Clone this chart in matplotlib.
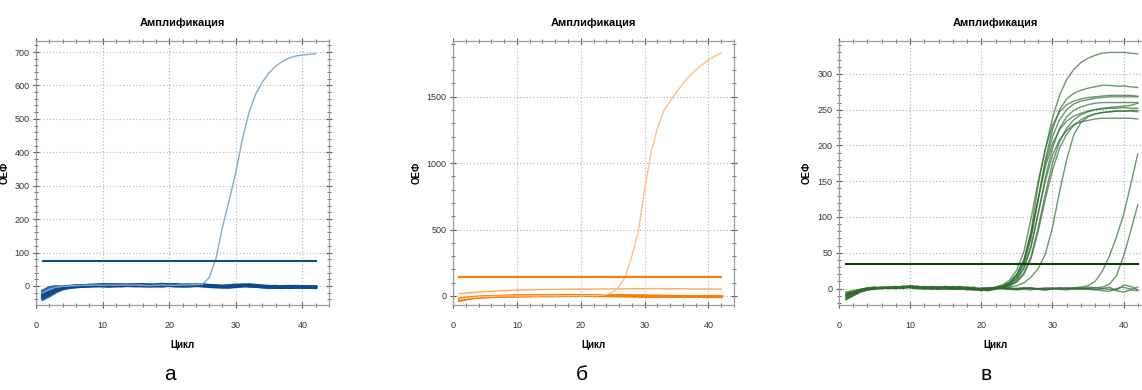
import matplotlib
matplotlib.use("Agg")
import matplotlib.pyplot as plt
from matplotlib.ticker import MultipleLocator

plt.rcParams['font.family'] = ['Liberation Sans', 'DejaVu Sans']

cycles = list(range(1, 43))

# --- а: синий канал ---
a_threshold = 75
a_positive = [-20, -10, -4, -1, 0, 1, 2, 2, 3, 2, 3, 2, 3, 2, 3, 2, 1, 2, 3, 2, 2,
              3, 3, 4, 5, 25, 80, 175, 255, 340, 440, 520, 575, 610, 638, 658, 672, 682, 688, 691, 693, 695]
a_negatives = [
    [-35, -25, -15, -8, -4, -2, -1, 0, 1, 2, 1, 2, 3, 2, 1, 2, 3, 2, 4, 3, 2,
     1, 2, 3, 2, 1, 0, -1, 0, 1, 2, 1, 0, -2, -3, -2, -4, -3, -2, -4, -3, -3],
    [-28, -20, -12, -6, -3, -1, 0, 1, 2, 3, 4, 3, 2, 1, 2, 3, 2, 1, 2, 3, 4,
     3, 2, 1, 0, -2, -3, -1, 1, 3, 2, 0, -1, -3, -5, -4, -2, -3, -4, -2, -3, -4],
    [-22, -14, -7, -3, -1, 0, 1, 0, 2, 1, 0, 1, 2, 3, 2, 0, -1, 1, 2, 1, 0,
     2, 3, 2, 1, 0, -2, -4, -2, 0, 1, 0, -2, -1, -3, -4, -5, -3, -2, -3, -5, -4],
    [-15, -5, -2, -3, -2, -1, 0, 2, 3, 4, 3, 1, 0, 2, 4, 3, 1, 0, -1, 2, 3,
     1, 0, 1, 3, 2, 1, -1, -3, -1, 0, 2, 1, -1, -2, -1, -3, -5, -4, -3, -2, -3],
    [-40, -30, -18, -9, -5, -3, -1, 0, 0, 1, 2, 3, 2, 1, 0, 1, 2, 4, 5, 3, 2,
     1, 0, 2, 3, 1, -1, -2, -1, 1, 3, 4, 2, 0, -1, -3, -2, -1, -3, -5, -4, -3],
    [-30, -22, -10, -5, -2, 0, 1, 2, 1, 0, -1, 0, 1, 2, 3, 4, 2, 1, 3, 2, 0,
     -1, 1, 2, 1, 0, -1, -3, -4, -2, 0, 1, -1, -3, -2, -4, -3, -2, -1, -2, -4, -5],
]

# --- б: оранжевый канал ---
b_threshold = 145
b_positive = [-25, -18, -12, -8, -5, -3, -2, -1, 0, 0, 1, 1, 1, 2, 2, 2, 2, 2, 3, 3, 3,
              3, 5, 10, 28, 70, 145, 300, 480, 800, 1080, 1260, 1395, 1465, 1535, 1600, 1655, 1700, 1742, 1777, 1805, 1830]
b_flat = [18, 22, 26, 30, 33, 36, 38, 40, 42, 44, 46, 47, 48, 49, 49, 50, 50, 51, 51, 52, 52,
          52, 53, 53, 53, 54, 54, 55, 55, 55, 55, 55, 55, 54, 54, 54, 53, 53, 53, 52, 52, 52]
b_negatives = [
    [-30, -20, -14, -10, -7, -5, -3, -2, -1, 0, 0, 1, 1, 2, 2, 2, 3, 3, 2, 3, 3,
     2, 3, 3, 2, 2, 1, 1, 0, 0, -1, -1, -2, -2, -3, -3, -4, -4, -5, -4, -5, -5],
    [-22, -15, -10, -7, -5, -3, -2, -1, 0, 1, 1, 2, 2, 3, 3, 4, 4, 3, 4, 4, 3,
     4, 3, 3, 2, 2, 1, 1, 0, 0, -1, -2, -2, -3, -3, -4, -4, -5, -5, -6, -5, -6],
    [-35, -25, -16, -11, -8, -6, -4, -3, -2, -1, 0, 0, 1, 1, 1, 2, 2, 2, 2, 3, 2,
     2, 2, 1, 1, 0, 0, -1, -1, -2, -2, -2, -3, -3, -3, -4, -4, -4, -4, -5, -5, -5],
]

# --- в: зелёный канал ---
c_threshold = 35
c_curves = [
    [-12, -8, -4, -1, 0, 1, 1, 2, 2, 3, 2, 1, 0, 1, 2, 1, 0, -1, 0, 1, 1,
     1, 3, 8, 20, 40, 80, 145, 195, 238, 270, 292, 306, 316, 322, 326, 329, 330, 330, 330, 329, 328],
    [-8, -5, -2, 0, 1, 0, 2, 3, 1, 2, 3, 2, 0, -1, 1, 2, 0, -2, -1, 0, 1,
     1, 3, 7, 16, 35, 70, 125, 180, 222, 250, 265, 273, 277, 280, 282, 284, 284, 283, 283, 282, 281],
    [-15, -10, -5, -2, 0, 1, 2, 1, 3, 4, 2, 0, 1, 2, -1, 0, 2, 1, -1, -2, 0,
     2, 5, 12, 26, 52, 98, 150, 195, 228, 247, 257, 262, 265, 267, 268, 269, 270, 270, 270, 270, 269],
    [-6, -4, -1, 1, 0, 2, 1, 0, 2, 3, 1, 2, 1, 0, 2, 3, 1, 0, -2, -1, 0,
     1, 3, 8, 18, 38, 75, 125, 175, 212, 236, 250, 258, 262, 264, 266, 267, 268, 268, 268, 268, 268],
    [-10, -7, -3, -1, 1, 0, 1, 2, 3, 2, 1, 3, 2, -1, 0, 1, 2, 0, -1, -3, -1,
     1, 2, 5, 12, 28, 58, 105, 155, 196, 224, 240, 249, 254, 257, 259, 260, 260, 260, 260, 260, 260],
    [-9, -6, -2, 0, -1, 1, 2, 1, 2, 4, 3, 1, -1, 1, 3, 0, -1, 1, 2, -2, 0,
     1, 2, 4, 10, 22, 45, 85, 132, 175, 205, 224, 236, 243, 247, 250, 252, 253, 254, 255, 256, 259],
    [-14, -9, -4, -2, 0, 1, 0, 2, 1, 2, 3, 1, 2, 0, 1, 2, 3, 1, 0, -2, -1,
     2, 4, 9, 20, 40, 78, 125, 170, 202, 222, 234, 241, 245, 248, 250, 251, 252, 252, 253, 252, 252],
    [-7, -5, -3, 0, 2, 1, 0, 1, 3, 2, 0, 1, 3, 2, 0, -1, 1, 2, 1, -1, -2,
     0, 2, 4, 9, 20, 42, 80, 125, 165, 196, 216, 228, 236, 241, 244, 246, 247, 248, 248, 248, 247],
    [-11, -7, -3, -1, 0, 2, 1, 1, 2, 2, 1, 0, 2, 1, 3, 1, -1, 0, 1, -1, -3,
     1, 3, 6, 14, 30, 60, 105, 150, 186, 208, 221, 229, 233, 235, 237, 238, 238, 238, 238, 238, 237],
    [-8, -6, -2, 0, 1, 1, 2, 0, 1, 3, 2, 1, 0, 2, 1, -1, 0, 2, 0, -1, -2,
     0, 1, 2, 4, 8, 16, 28, 48, 85, 135, 180, 215, 232, 240, 244, 246, 247, 248, 248, 249, 249],
    [-10, -6, -3, -1, 0, 1, 2, 1, 0, 2, 1, 0, 1, 2, 0, -1, 1, 0, -1, -2, -1,
     0, 1, 0, -1, 0, 1, 0, -1, 0, 1, 0, 1, 2, 4, 10, 24, 45, 72, 103, 145, 188],
    [-13, -8, -4, -2, -1, 0, 1, 2, 1, 3, 2, 0, -1, 1, 2, 0, 1, -1, -2, -1, 0,
     1, 0, -1, 0, 1, 0, -1, -2, -1, 0, 1, 0, -1, 0, 1, 2, 6, 18, 45, 80, 117],
    [-9, -5, -2, 0, 1, 2, 1, 0, 2, 1, 0, 2, 1, -1, 0, 1, 2, 0, -1, -2, -3,
     -1, 0, 1, 0, -1, -2, 0, 1, 0, -1, 0, 1, 0, -1, -2, 0, 2, -3, -5, -2, -3],
    [-16, -10, -5, -2, 0, 1, 0, 2, 1, 2, 3, 1, 0, 1, 2, 0, -1, 1, 0, -1, -2,
     0, 1, -1, -2, 0, 1, -1, 0, 1, -1, -2, 0, 1, 0, -1, -3, -4, 0, 2, -1, 2],
    [-5, -3, -1, 1, 2, 0, 1, 2, 3, 1, 0, -1, 1, 2, 1, 0, 2, 1, -1, 0, -1,
     1, 0, -1, 0, 1, 0, -1, -2, 0, 1, 0, -1, 0, 2, 1, 0, -1, -2, 5, 3, -2],
]

W, H = 1142, 390
fig = plt.figure(figsize=(W / 100, H / 100), dpi=100)


def make_axes(left_px, right_px, ylim, ymajor, yminor, ylabel_px):
    ax = fig.add_axes([left_px / W, (H - 305) / H, (right_px - left_px) / W, 264 / H])
    ax.set_xlim(0, 44)
    ax.set_ylim(*ylim)
    ax.xaxis.set_major_locator(MultipleLocator(10))
    ax.xaxis.set_minor_locator(MultipleLocator(2))
    ax.yaxis.set_major_locator(MultipleLocator(ymajor))
    ax.yaxis.set_minor_locator(MultipleLocator(yminor))
    ax.grid(True, which='major', linestyle=(0, (1, 2)), color='#b0b0b0', linewidth=0.8)
    ax.tick_params(which='both', direction='inout', top=True, right=True,
                   labelsize=6.5, pad=2, color='#555555', labelcolor='#333333')
    ax.tick_params(axis='x', pad=9)
    ax.tick_params(which='major', length=5)
    ax.tick_params(which='minor', length=3)
    for s in ax.spines.values():
        s.set_color('#999999')
        s.set_linewidth(0.9)
    ax.set_title('Амплификация', fontsize=8, fontweight='bold', pad=11)
    ax.set_xlabel('Цикл', fontsize=7, fontweight='bold', labelpad=7)
    ax.set_ylabel('ОЕФ', fontsize=7, fontweight='bold')
    ax.yaxis.set_label_coords((ylabel_px - left_px) / (right_px - left_px), 0.5)
    return ax


# а
ax = make_axes(36, 329, (-57, 733), 100, 20, 10)
for y in a_negatives:
    ax.plot(cycles, y, color='#0d4a8c', linewidth=2.2, alpha=0.85)
ax.plot(cycles, a_positive, color='#86a9cf', linewidth=1.0)
ax.plot([cycles[0], cycles[-1]], [a_threshold, a_threshold], color='#0f4b85', linewidth=1.5)

# б
ax = make_axes(453, 734, (-68, 1920), 500, 100, 422)
for y in b_negatives:
    ax.plot(cycles, y, color='#ff7a00', linewidth=2.0)
ax.plot(cycles, b_flat, color='#ffae66', linewidth=1.1)
ax.plot(cycles, b_positive, color='#ffbf85', linewidth=1.0)
ax.plot([cycles[0], cycles[-1]], [b_threshold, b_threshold], color='#ff7a00', linewidth=1.5)

# в
ax = make_axes(839, 1152, (-23, 346), 50, 10, 812)
for y in c_curves:
    ax.plot(cycles, y, color='#2e6b2e', linewidth=1.0, alpha=0.7)
ax.plot([cycles[0], cycles[-1]], [c_threshold, c_threshold], color='#0c3f0c', linewidth=1.5)

for x, letter in [(170, 'а'), (582, 'б'), (986, 'в')]:
    fig.text(x / W, 1 - 375 / H, letter, fontsize=15, ha='center', va='center')

fig.savefig('out.png', dpi=100)
